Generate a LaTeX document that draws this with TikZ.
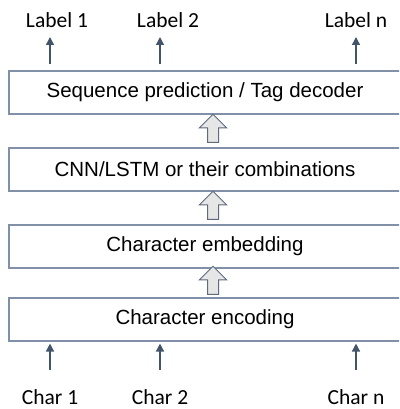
\documentclass[tikz,border=0pt]{standalone}
\usepackage{fontspec}
\setmainfont{Liberation Sans}
\newfontfamily\labfont{Carlito}
\usetikzlibrary{shapes.arrows,arrows.meta,calc}
\definecolor{boxline}{HTML}{8090A8}
\definecolor{smallarrow}{HTML}{44546A}
\definecolor{blockfill}{HTML}{E7E6E6}
\definecolor{blockline}{HTML}{5F6B7C}
\tikzset{
  layerbox/.style={draw=boxline, line width=1.1pt, minimum width=392pt, minimum height=43pt, inner sep=0pt, font=\fontsize{20.5}{24}\selectfont},
  lab/.style={font=\labfont\fontsize{21.5}{25}\selectfont, inner sep=0pt},
  smallarr/.style={draw=smallarrow, line width=1.4pt, -{Triangle[length=8pt,width=8pt]}},
  blockarr/.style={shape=single arrow, shape border rotate=90, draw=blockline, fill=blockfill, line width=1pt, inner xsep=5pt, inner ysep=5pt, single arrow head extend=8pt, minimum height=28pt, minimum width=0pt, single arrow tip angle=90}
}
\begin{document}
\begin{tikzpicture}[x=1pt,y=-1pt]
\useasboundingbox (0,0) rectangle (399,409);
\clip (0,0) rectangle (399,409);
\node[layerbox] (b1) at (205,92.5) {Sequence prediction / Tag decoder};
\node[layerbox] (b2) at (205,169.5) {CNN/LSTM or their combinations};
\node[layerbox] (b3) at (205,246.5) {Character embedding};
\node[layerbox] (b4) at (205,319.5) {Character encoding};
\node[blockarr] (a12) at ($($(b1.south)!0.5!(b2.north)$)+(8,0)$) {};
\node[blockarr] (a23) at ($($(b2.south)!0.5!(b3.north)$)+(8,0)$) {};
\node[blockarr] (a34) at ($($(b3.south)!0.5!(b4.north)$)+(8,0)$) {};
\node[lab] (l1) at (57,20) {Label 1};
\node[lab] (l2) at (168,20) {Label 2};
\node[lab] (ln) at (356,20) {Label n};
\node[lab] (c1) at (50,397) {Char 1};
\node[lab] (c2) at (160,397) {Char 2};
\node[lab] (cn) at (356,397) {Char n};
\coordinate (t1) at (50,37);
\coordinate (t2) at (160,37);
\coordinate (tn) at (356,37);
\draw[smallarr] (b1.north -| t1) ++(0,-6) -- (t1);
\draw[smallarr] (b1.north -| t2) ++(0,-6) -- (t2);
\draw[smallarr] (b1.north -| tn) ++(0,-6) -- (tn);
\coordinate (s1) at (50,370);
\coordinate (s2) at (160,370);
\coordinate (sn) at (356,370);
\draw[smallarr] (s1) -- ([yshift=-2pt]b4.south -| s1);
\draw[smallarr] (s2) -- ([yshift=-2pt]b4.south -| s2);
\draw[smallarr] (sn) -- ([yshift=-2pt]b4.south -| sn);
\end{tikzpicture}
\end{document}
